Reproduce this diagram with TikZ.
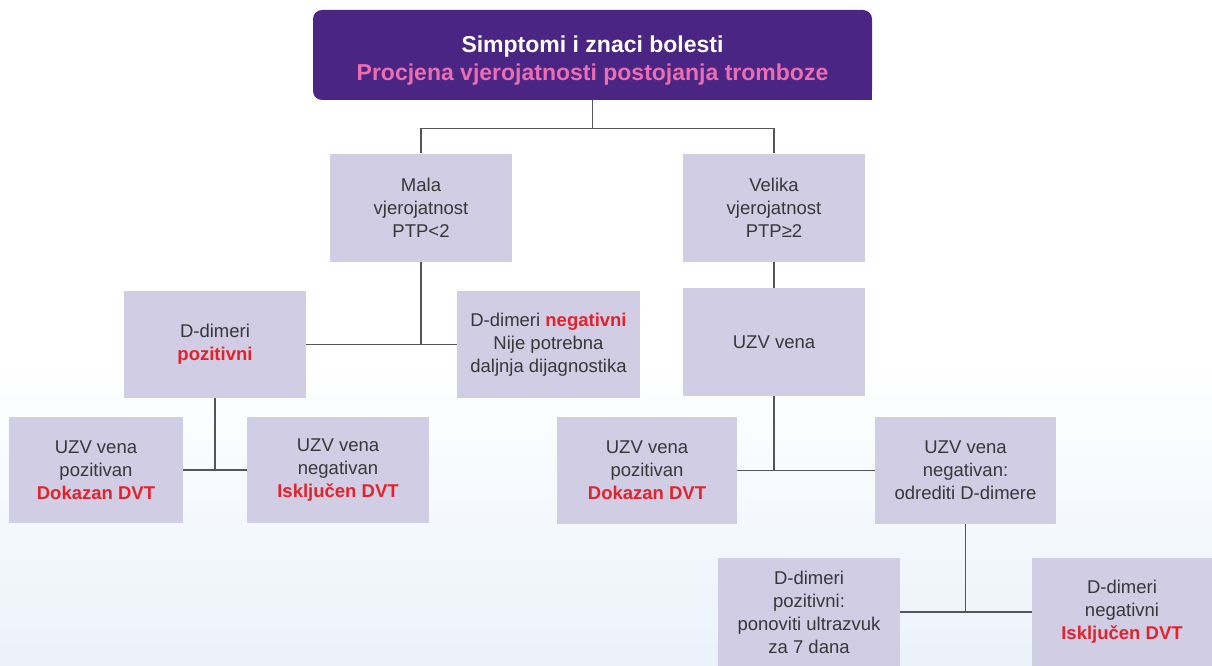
\documentclass[tikz,border=0pt]{standalone}
\usepackage{fontspec}
\setmainfont{Liberation Sans}
\definecolor{topviolet}{HTML}{4A2584}
\definecolor{toppink}{HTML}{EC6DB0}
\definecolor{boxlilac}{HTML}{D0CDE4}
\definecolor{boxtext}{HTML}{383838}
\definecolor{alertred}{HTML}{E3222C}
\definecolor{linegray}{HTML}{555555}
\definecolor{bgblue}{HTML}{EAF2FA}
\newcommand{\alert}[1]{\textcolor{alertred}{\bfseries #1}}
\begin{document}
\begin{tikzpicture}[x=1pt,y=-1pt,
    stepbox/.style={fill=boxlilac,text=boxtext,align=center,inner sep=0pt,
        minimum width=182pt,minimum height=108pt,
        font=\fontsize{18.5}{23}\selectfont},
    link/.style={draw=linegray,line width=1.2pt}]
        %% Background
        \useasboundingbox (0,0) rectangle (1212,666);
        \shade[top color=white,bottom color=bgblue] (0,360) rectangle (1212,666);
        \fill[white] (0,0) rectangle (1212,360);
        %% Header
        \node[fill=topviolet,rounded corners=9pt,minimum width=559pt,minimum height=90pt,
            align=center,inner sep=0pt,font=\fontsize{23}{28}\selectfont\bfseries]
            (top) at (592.5,55) {\rule{0pt}{27pt}\textcolor{white}{Simptomi i znaci bolesti}\\
            \textcolor{toppink}{Procjena vjerojatnosti postojanja tromboze}};
            \fill[topviolet] (top.south east) rectangle ++(-12,-12);
        %% Boxes
        \node[stepbox] (mala) at (421,207.5) {Mala\\vjerojatnost\\PTP<2};
        \node[stepbox] (velika) at (774,207.5) {Velika\\vjerojatnost\\PTP≥2};
        \node[stepbox,minimum height=107pt] (dpoz) at (215,344.5) {D-dimeri\\\alert{pozitivni}};
        \node[stepbox,minimum height=107pt,minimum width=183pt] (dneg) at (548.5,344.5)
            {D-dimeri \alert{negativni}\\Nije potrebna\\daljnja dijagnostika};
        \node[stepbox] (uzv) at (774,342) {UZV vena};
        \node[stepbox,minimum width=174pt,minimum height=106pt] (lpoz) at (96,470)
            {UZV vena\\pozitivan\\\alert{Dokazan DVT}};
        \node[stepbox,minimum height=106pt] (lneg) at (338,470)
            {UZV vena\\negativan\\\alert{Isključen DVT}};
        \node[stepbox,minimum width=180pt,minimum height=107pt] (rpoz) at (647,470.5)
            {UZV vena\\pozitivan\\\alert{Dokazan DVT}};
        \node[stepbox,minimum width=181pt,minimum height=107pt] (rneg) at (965.5,470.5)
            {UZV vena\\negativan:\\odrediti D-dimere};
        \node[stepbox] (bpoz) at (809,612)
            {D-dimeri\\pozitivni:\\ponoviti ultrazvuk\\za 7 dana};
        \node[stepbox,minimum width=180pt] (bneg) at (1122,612)
            {D-dimeri\\negativni\\\alert{Isključen DVT}};
        %% Connectors
        \draw[link] (top.south) -- ++(0,28);
        \draw[link] (mala.north) -- ++(0,-25) -| (velika.north);
        \draw[link] (mala.south) -- (mala.south |- dpoz.east);
        \draw[link] (dpoz.east) -- (dneg.west);
        \draw[link] (velika.south) -- (uzv.north);
        \draw[link] (dpoz.south) -- (dpoz.south |- lpoz.east);
        \draw[link] (lpoz.east) -- (lneg.west);
        \draw[link] (uzv.south) -- (uzv.south |- rpoz.east);
        \draw[link] (rpoz.east) -- (rneg.west);
        \draw[link] (rneg.south) -- (rneg.south |- bpoz.east);
        \draw[link] (bpoz.east) -- (bneg.west);
    \end{tikzpicture}
\end{document}
